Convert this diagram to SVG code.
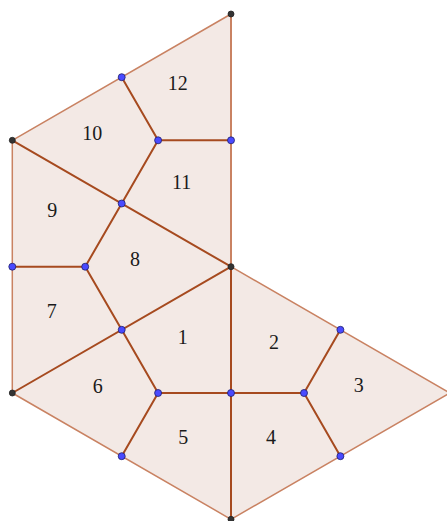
<svg xmlns="http://www.w3.org/2000/svg" width="447" height="521" viewBox="0 0 447 521">
<style>
.q{fill:#f3e9e5;stroke:none}
.out{fill:none;stroke:#c98262;stroke-width:1.5;stroke-linejoin:round}
.in{stroke:#a64a1f;stroke-width:2;stroke-linecap:round}
.lb{font-family:"Liberation Serif","DejaVu Serif",serif;font-size:20px;fill:#1a1a1a;text-anchor:middle}
.bp{fill:#4a4aff;stroke:#1f1f6b;stroke-width:0.8}
.kp{fill:#333;stroke:#222;stroke-width:0.8}
</style>
<rect width="447" height="521" fill="#fff"/>
<g id="n12"><polygon class="q" points="231,14 121.7,77.2 158.1,140.3 231,140.3"/><text class="lb" x="177.7" y="90">12</text></g>
<g id="n10"><polygon class="q" points="121.7,77.2 12.3,140.3 121.7,203.5 158.1,140.3"/><text class="lb" x="92.3" y="140">10</text></g>
<g id="n11"><polygon class="q" points="158.1,140.3 121.7,203.5 231,266.7 231,140.3"/><text class="lb" x="181.7" y="188.5">11</text></g>
<g id="n9"><polygon class="q" points="12.3,140.3 12.3,266.7 85.2,266.7 121.7,203.5"/><text class="lb" x="52.3" y="216.5">9</text></g>
<g id="n8"><polygon class="q" points="121.7,203.5 85.2,266.7 121.7,329.8 231,266.7"/><text class="lb" x="135" y="266">8</text></g>
<g id="n7"><polygon class="q" points="12.3,266.7 12.3,393 121.7,329.8 85.2,266.7"/><text class="lb" x="51.7" y="317.5">7</text></g>
<g id="n6"><polygon class="q" points="121.7,329.8 12.3,393 121.7,456.2 158.1,393"/><text class="lb" x="97.7" y="392.5">6</text></g>
<g id="n1"><polygon class="q" points="231,266.7 121.7,329.8 158.1,393 231,393"/><text class="lb" x="182.7" y="343.5">1</text></g>
<g id="n5"><polygon class="q" points="158.1,393 121.7,456.2 231,519.3 231,393"/><text class="lb" x="183.3" y="443.5">5</text></g>
<g id="n2"><polygon class="q" points="231,266.7 231,393 304,393 340.4,329.8"/><text class="lb" x="274" y="348.5">2</text></g>
<g id="n3"><polygon class="q" points="340.4,329.8 304,393 340.4,456.2 449.7,393"/><text class="lb" x="358.7" y="391.5">3</text></g>
<g id="n4"><polygon class="q" points="231,393 231,519.3 340.4,456.2 304,393"/><text class="lb" x="271" y="443.5">4</text></g>
<g id="connectors">
<polygon class="out" points="231,14 12.3,140.3 12.3,393 231,519.3 449.7,393 231,266.7"/>
<line class="out" x1="231" y1="14" x2="231" y2="266.7" style="stroke-width:2"/>
<line class="in" x1="121.7" y1="77.2" x2="158.1" y2="140.3"/>
<line class="in" x1="158.1" y1="140.3" x2="231" y2="140.3"/>
<line class="in" x1="158.1" y1="140.3" x2="121.7" y2="203.5"/>
<line class="in" x1="12.3" y1="140.3" x2="231" y2="266.7"/>
<line class="in" x1="12.3" y1="266.7" x2="85.2" y2="266.7"/>
<line class="in" x1="85.2" y1="266.7" x2="121.7" y2="203.5"/>
<line class="in" x1="85.2" y1="266.7" x2="121.7" y2="329.8"/>
<line class="in" x1="231" y1="266.7" x2="12.3" y2="393"/>
<line class="in" x1="121.7" y1="329.8" x2="158.1" y2="393"/>
<line class="in" x1="158.1" y1="393" x2="231" y2="393"/>
<line class="in" x1="158.1" y1="393" x2="121.7" y2="456.2"/>
<line class="in" x1="231" y1="266.7" x2="231" y2="519.3"/>
<line class="in" x1="231" y1="393" x2="304" y2="393"/>
<line class="in" x1="304" y1="393" x2="340.4" y2="329.8"/>
<line class="in" x1="304" y1="393" x2="340.4" y2="456.2"/>
</g>
<g id="points">
<circle class="kp" cx="231" cy="14" r="3"/>
<circle class="kp" cx="12.3" cy="140.3" r="3"/>
<circle class="kp" cx="231" cy="266.7" r="3"/>
<circle class="kp" cx="12.3" cy="393" r="3"/>
<circle class="kp" cx="231" cy="519.3" r="3"/>
<circle class="bp" cx="121.7" cy="77.2" r="3.5"/>
<circle class="bp" cx="158.1" cy="140.3" r="3.5"/>
<circle class="bp" cx="231" cy="140.3" r="3.5"/>
<circle class="bp" cx="121.7" cy="203.5" r="3.5"/>
<circle class="bp" cx="12.3" cy="266.7" r="3.5"/>
<circle class="bp" cx="85.2" cy="266.7" r="3.5"/>
<circle class="bp" cx="121.7" cy="329.8" r="3.5"/>
<circle class="bp" cx="340.4" cy="329.8" r="3.5"/>
<circle class="bp" cx="158.1" cy="393" r="3.5"/>
<circle class="bp" cx="231" cy="393" r="3.5"/>
<circle class="bp" cx="304" cy="393" r="3.5"/>
<circle class="bp" cx="121.7" cy="456.2" r="3.5"/>
<circle class="bp" cx="340.4" cy="456.2" r="3.5"/>
</g>
</svg>
